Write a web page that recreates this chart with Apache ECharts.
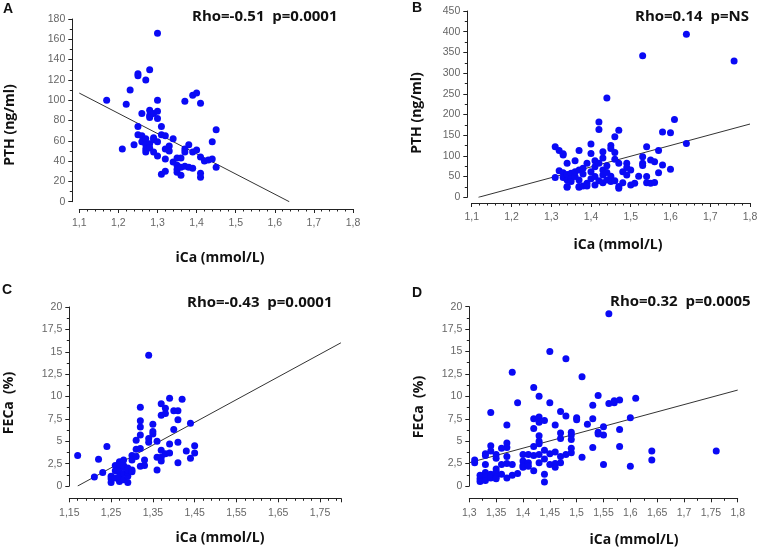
<!DOCTYPE html>
<html><head><meta charset="utf-8">
<script src="https://cdn.jsdelivr.net/npm/echarts@6/dist/echarts.min.js"></script>
<style>html,body{margin:0;padding:0;background:#fff}#c{width:762px;height:548px}</style>
</head><body><div id="c"></div>
<script>
// ---- data ----
const ptsA = [[1.17,100],[1.21,52],[1.22,96],[1.23,110],[1.24,56],[1.25,126],[1.25,124],[1.25,74],[1.25,66],[1.26,65],[1.26,87],[1.26,59],[1.27,120],[1.27,62],[1.27,56],[1.27,49],[1.27,52],[1.28,130],[1.28,90],[1.28,85],[1.28,83],[1.28,57],[1.28,53],[1.29,63],[1.29,61],[1.29,49],[1.29,87],[1.30,166],[1.30,100],[1.30,89],[1.30,82],[1.30,59],[1.30,45],[1.31,74],[1.31,66],[1.31,27],[1.32,65],[1.32,52],[1.32,42],[1.32,30],[1.33,55],[1.33,50],[1.34,62],[1.34,39],[1.35,43],[1.35,36],[1.35,29],[1.35,32],[1.36,43],[1.36,34],[1.36,26],[1.37,99],[1.37,52],[1.37,49],[1.37,35],[1.38,56],[1.38,34],[1.39,105],[1.39,49],[1.39,33],[1.40,107],[1.40,51],[1.41,97],[1.41,44],[1.41,28],[1.41,24],[1.42,40],[1.43,41],[1.44,59],[1.44,42],[1.45,71],[1.45,34]];
const ptsB = [[1.31,122],[1.31,48],[1.32,113],[1.32,64],[1.33,102],[1.33,59],[1.33,48],[1.33,105],[1.34,82],[1.34,42],[1.34,26],[1.34,55],[1.34,24],[1.35,58],[1.35,45],[1.35,38],[1.36,88],[1.36,50],[1.36,62],[1.37,113],[1.37,66],[1.37,42],[1.37,26],[1.37,24],[1.38,56],[1.38,27],[1.38,70],[1.39,82],[1.39,34],[1.39,27],[1.40,129],[1.40,106],[1.40,62],[1.40,45],[1.41,88],[1.41,74],[1.41,50],[1.41,30],[1.42,182],[1.42,164],[1.42,82],[1.42,40],[1.43,110],[1.43,66],[1.43,54],[1.43,95],[1.43,35],[1.44,240],[1.44,76],[1.44,42],[1.44,60],[1.45,125],[1.45,118],[1.45,51],[1.45,38],[1.46,146],[1.46,108],[1.46,92],[1.46,40],[1.47,162],[1.47,26],[1.47,22],[1.47,82],[1.48,35],[1.48,62],[1.49,82],[1.49,54],[1.49,72],[1.50,66],[1.50,30],[1.51,34],[1.52,51],[1.53,342],[1.53,98],[1.53,82],[1.53,77],[1.54,122],[1.54,50],[1.54,35],[1.55,90],[1.55,34],[1.56,86],[1.56,36],[1.57,113],[1.57,59],[1.58,158],[1.58,78],[1.60,156],[1.60,68],[1.61,188],[1.64,394],[1.64,130],[1.76,329]];
const ptsC = [[1.17,3.4],[1.21,1.0],[1.22,3.0],[1.23,1.5],[1.24,4.4],[1.25,1.1],[1.25,0.4],[1.25,0.8],[1.26,2.3],[1.26,1.7],[1.26,0.9],[1.27,2.7],[1.27,2.1],[1.27,0.5],[1.27,1.6],[1.27,1.1],[1.27,2.4],[1.28,2.9],[1.28,2.1],[1.28,2.3],[1.28,1.4],[1.28,0.7],[1.29,2.0],[1.29,1.1],[1.29,0.4],[1.29,1.5],[1.29,1.8],[1.30,1.8],[1.30,3.4],[1.30,2.9],[1.30,1.6],[1.31,3.3],[1.31,4.1],[1.31,5.1],[1.32,8.8],[1.32,7.3],[1.32,6.6],[1.32,5.7],[1.32,4.2],[1.32,2.2],[1.33,2.9],[1.33,2.3],[1.34,14.6],[1.34,5.3],[1.34,4.9],[1.35,6.9],[1.35,6.1],[1.35,5.8],[1.36,5.0],[1.36,3.2],[1.36,1.8],[1.37,9.2],[1.37,7.9],[1.37,4.0],[1.37,3.2],[1.37,2.8],[1.38,8.7],[1.38,8.1],[1.38,3.6],[1.39,9.8],[1.39,4.7],[1.39,3.7],[1.40,8.4],[1.40,6.3],[1.41,8.4],[1.41,7.4],[1.41,4.9],[1.41,2.6],[1.42,9.7],[1.43,3.9],[1.44,7.0],[1.44,3.1],[1.45,4.5],[1.45,3.7]];
const ptsD = [[1.31,2.9],[1.31,2.6],[1.32,1.2],[1.32,0.8],[1.32,0.5],[1.33,3.6],[1.33,3.4],[1.33,2.4],[1.33,1.5],[1.33,1.0],[1.33,0.6],[1.34,8.2],[1.34,4.5],[1.34,3.9],[1.34,1.3],[1.34,0.9],[1.35,3.5],[1.35,3.1],[1.35,1.9],[1.35,1.6],[1.35,1.0],[1.35,0.8],[1.36,4.2],[1.36,2.4],[1.36,1.3],[1.37,6.8],[1.37,4.8],[1.37,4.3],[1.37,3.3],[1.37,2.5],[1.37,0.9],[1.38,12.7],[1.38,2.4],[1.38,1.2],[1.39,9.3],[1.39,1.4],[1.40,3.5],[1.40,2.8],[1.40,2.3],[1.40,2.1],[1.41,3.5],[1.41,2.6],[1.41,2.2],[1.42,11.0],[1.42,7.5],[1.42,6.4],[1.42,4.4],[1.42,3.4],[1.42,1.7],[1.43,10.0],[1.43,7.7],[1.43,7.1],[1.43,5.6],[1.43,5.0],[1.43,4.7],[1.43,3.5],[1.43,2.6],[1.44,7.3],[1.44,4.0],[1.44,3.0],[1.44,1.3],[1.44,0.45],[1.45,15.0],[1.45,9.3],[1.45,3.6],[1.45,2.4],[1.46,6.8],[1.46,3.8],[1.46,2.5],[1.46,2.1],[1.47,8.3],[1.47,5.9],[1.47,5.3],[1.47,3.3],[1.47,2.6],[1.48,14.2],[1.48,7.8],[1.48,3.5],[1.49,6.0],[1.49,5.7],[1.49,5.2],[1.49,4.2],[1.49,3.7],[1.50,7.6],[1.50,7.4],[1.51,12.2],[1.51,3.2],[1.52,6.9],[1.53,9.0],[1.53,7.5],[1.53,4.3],[1.54,10.1],[1.54,6.0],[1.54,5.8],[1.55,6.6],[1.55,5.7],[1.55,2.4],[1.56,19.2],[1.56,9.2],[1.57,9.3],[1.57,9.5],[1.58,9.6],[1.58,6.3],[1.58,4.4],[1.60,7.6],[1.60,2.2],[1.61,9.8],[1.64,3.9],[1.64,2.9],[1.76,3.9]];
// regression line endpoints
const fitA = [[1.1,107],[1.637,0]];
const fitB = [[1.117,0],[1.8,177]];
const fitC = [[1.17,0],[1.8,16]];
const fitD = [[1.3,2.6],[1.8,10.7]];
// axis ticks
const xTicksA = [1.1,1.2,1.3,1.4,1.5,1.6,1.7,1.8];
const xTicksB = [1.1,1.2,1.3,1.4,1.5,1.6,1.7,1.8];
const xTicksC = [1.15,1.25,1.35,1.45,1.55,1.65,1.75];
const xMaxC = 1.8;
const xTicksD = [1.3,1.35,1.4,1.45,1.5,1.55,1.6,1.65,1.7,1.75,1.8];
const yTicksA = [0,20,40,60,80,100,120,140,160,180];
const yTicksB = [0,50,100,150,200,250,300,350,400,450];
const yTicksC = [0,2.5,5,7.5,10,12.5,15,17.5,20];
const yTicksD = [0,2.5,5,7.5,10,12.5,15,17.5,20];
const stats = ['Rho=-0.51  p=0.0001','Rho=0.14  p=NS','Rho=-0.43  p=0.0001','Rho=0.32  p=0.0005'];
const letters = ['A','B','C','D'];
const yTitles = ['PTH (ng/ml)','PTH (ng/ml)','FECa  (%)','FECa  (%)'];
const xTitle = 'iCa (mmol/L)';

// ---- layout ----
const grids = [
  {left:79.3, top:19, width:273.7, height:182.7},
  {left:471.7, top:11, width:278.3, height:186.3},
  {left:69.3, top:307, width:271.6, height:179},
  {left:469.3, top:306.7, width:268.4, height:179.3}
];
const yOff = [7, 4.4, 0, 0];
const xOff = [7.3, 5.7, 12.3, 12.3];
const xMinor = [5,5,5,2];
const yMinor = [2,2,2,2];

function fmt(v){ return String(+(+v).toFixed(2)).replace('.', ','); }
function iv(t){ return +(t[1]-t[0]).toFixed(4); }
const LBL = {color:'#666', fontSize:10.5, fontFamily:'Liberation Sans, Arial'};

const xT = [xTicksA,xTicksB,xTicksC,xTicksD];
const yT = [yTicksA,yTicksB,yTicksC,yTicksD];
const xMaxs = [xTicksA[xTicksA.length-1], xTicksB[xTicksB.length-1], xMaxC, xTicksD[xTicksD.length-1]];

const xAxes = xT.map((t,i)=>({
  type:'value', gridIndex:i, min:t[0], max:xMaxs[i], interval:iv(t),
  offset:xOff[i], splitLine:{show:false},
  axisLine:{show:true, onZero:false, lineStyle:{color:'#222', width:1}},
  axisTick:{show:true, length:4, lineStyle:{color:'#222'}},
  minorTick:{show:true, splitNumber:xMinor[i], length:2.5, lineStyle:{color:'#222'}},
  axisLabel:Object.assign({formatter:fmt, margin:9, showMaxLabel: i!==2}, LBL)
}));
const yAxes = yT.map((t,i)=>({
  type:'value', gridIndex:i, min:t[0], max:t[t.length-1], interval:iv(t),
  offset:yOff[i], splitLine:{show:false},
  axisLine:{show:true, onZero:false, lineStyle:{color:'#222', width:1}},
  axisTick:{show:true, length:4, lineStyle:{color:'#222'}},
  minorTick:{show:true, splitNumber:yMinor[i], length:2.5, lineStyle:{color:'#222'}},
  axisLabel:Object.assign({formatter:fmt, margin:7}, LBL)
}));

const pts = [ptsA,ptsB,ptsC,ptsD];
const fits = [fitA,fitB,fitC,fitD];
const series = [];
pts.forEach((d,i)=>{
  series.push({type:'line', xAxisIndex:i, yAxisIndex:i, data:fits[i], symbol:'none', silent:true, z:1,
    lineStyle:{color:'#333', width:1}, animation:false});
  series.push({type:'scatter', xAxisIndex:i, yAxisIndex:i, data:d, symbol:'circle', symbolSize:7, z:2,
    itemStyle:{color:'#0a0af5', opacity:1}, animation:false});
});

const TF = 'Open Sans, Liberation Sans, Arial';
const graphic = [];
const statPos = [[192,17],[635,17],[187,303],[610,302]];
const letterPos = [[3,9],[412,8],[2,290],[412,293]];
const yTitlePos = [[10,125],[417,113],[9,403],[419,407]];
const xTitlePos = [[220,258],[618,245],[220,538],[634,540]];
for (let i=0;i<4;i++){
  graphic.push({type:'text', x:statPos[i][0], y:statPos[i][1], style:{text:stats[i], font:'bold 15px '+TF, fill:'#111', textAlign:'left', textVerticalAlign:'middle'}});
  graphic.push({type:'text', x:letterPos[i][0], y:letterPos[i][1], style:{text:letters[i], font:'bold 14px Liberation Sans, Arial', fill:'#111', textAlign:'left', textVerticalAlign:'middle'}});
  graphic.push({type:'text', x:yTitlePos[i][0], y:yTitlePos[i][1], rotation:Math.PI/2, style:{text:yTitles[i], font:'bold 14px '+TF, fill:'#111', textAlign:'center', textVerticalAlign:'middle'}});
  graphic.push({type:'text', x:xTitlePos[i][0], y:xTitlePos[i][1], style:{text:xTitle, font:'bold 14px '+TF, fill:'#111', textAlign:'center', textVerticalAlign:'middle'}});
}

const chart = echarts.init(document.getElementById('c'), null, {renderer:'canvas'});
chart.setOption({
  animation:false, backgroundColor:'#fff',
  grid: grids.map(g=>Object.assign({containLabel:false}, g)),
  xAxis:xAxes, yAxis:yAxes, series:series, graphic:graphic
});
</script></body></html>
